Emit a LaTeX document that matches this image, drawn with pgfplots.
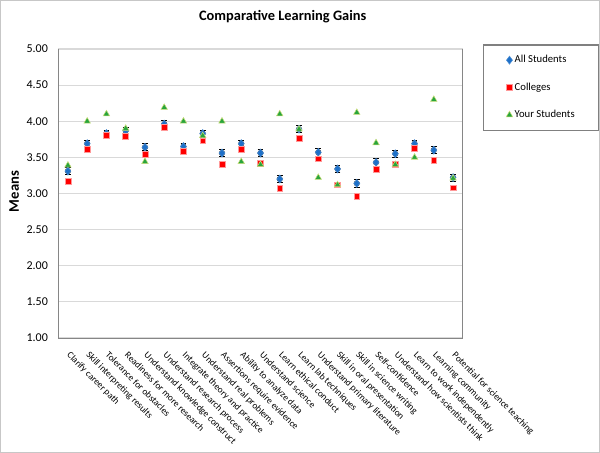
\documentclass[border=0pt]{standalone}
\usepackage{fontspec}
\setmainfont{Carlito}
\usepackage{pgfplots}
\pgfplotsset{compat=1.18}
\definecolor{gridc}{RGB}{217,217,217}
\definecolor{axc}{RGB}{134,134,134}
\definecolor{legc}{RGB}{128,128,128}
\definecolor{allc}{RGB}{30,112,200}
\definecolor{colc}{RGB}{255,0,0}
\definecolor{yourc}{RGB}{40,165,60}
\definecolor{yourb}{RGB}{200,220,120}
\begin{document}
\begin{tikzpicture}
\begin{axis}[
  name=ax,
  at={(0,0)}, anchor=south west,
  scale only axis,
  width=303.3pt, height=216.75pt,
  xmin=0.5, xmax=21.5, ymin=1, ymax=5,
  axis line style={axc},
  axis x line*=bottom, axis y line*=left,
  ytick={1,1.5,...,5},
  yticklabel style={/pgf/number format/fixed,/pgf/number format/precision=2,/pgf/number format/fixed zerofill, font=\fontsize{9}{10}\selectfont, xshift=0pt},
  /pgf/number format/assume math mode=true,
  ytick style={draw=none},
  ymajorgrids, grid style={gridc, line width=0.8pt},
  xtick={1,...,21},
  xtick style={draw=none},
  minor xtick={0.5,1.5,...,21.5},
  minor x tick style={axc},
  minor tick length=3pt,
  tick align=outside,
  xticklabels={Clarify career path, Skill interpreting results, Tolerance for obstacles, Readiness for more research, Understand knowledge construct, Understand research process, Integrate theory and practice, Understand real problems, Assertions require evidence, Ability to analyze data, Understand science, Learn ethical conduct, Learn lab techniques, Understand primary literature, Skill in oral presentation, Skill in science writing, Self-confidence, Understand how scientists think, Learn to work independently, Learning community, Potential for science teaching},
  xticklabel style={xshift=2.5pt, yshift=-4pt, rotate=-45, anchor=north west, font=\fontsize{7}{8}\selectfont, inner sep=1pt},
  ylabel={Means},
  ylabel style={at={(axis description cs:-0.109,0.507)}, anchor=center, font=\bfseries\fontsize{11}{12}\selectfont},
  title={Comparative Learning Gains},
  every axis title shift/.style={},
  title style={at={(axis description cs:0.555,1.085)}, anchor=center, font=\bfseries\fontsize{10.8}{12}\selectfont},
  legend style={at={(axis description cs:1.0495,1.0173)}, anchor=north west, draw=legc, line width=1.2pt, inner xsep=16.6pt, inner ysep=6pt, row sep=9.5pt, font=\fontsize{8}{9}\selectfont, legend cell align=left, nodes={inner xsep=1.5pt}},
  legend image code/.code={\path (0,0) (0.13cm,0); \draw[#1, line width=0.4pt] plot coordinates {(0.08cm,0cm)};},
]
\addplot[only marks, mark=none, forget plot, black, error bars/.cd, y dir=both, y explicit, error bar style={black, line width=0.5pt}, error mark options={black, rotate=90, mark size=2.2pt, line width=0.6pt}] coordinates {
(1,3.31) +- (0,0.05)
(2,3.69) +- (0,0.05)
(3,3.83) +- (0,0.05)
(4,3.87) +- (0,0.05)
(5,3.64) +- (0,0.05)
(6,3.96) +- (0,0.05)
(7,3.65) +- (0,0.05)
(8,3.83) +- (0,0.05)
(9,3.56) +- (0,0.05)
(10,3.69) +- (0,0.05)
(11,3.56) +- (0,0.05)
(12,3.20) +- (0,0.05)
(13,3.89) +- (0,0.05)
(14,3.57) +- (0,0.05)
(15,3.34) +- (0,0.05)
(16,3.14) +- (0,0.05)
(17,3.43) +- (0,0.05)
(18,3.55) +- (0,0.05)
(19,3.69) +- (0,0.05)
(20,3.60) +- (0,0.05)
(21,3.22) +- (0,0.05)
};
\addplot[only marks, mark=diamond*, mark size=3pt, mark options={fill=allc, draw=allc!80!white, line width=0.4pt}] coordinates {
(1,3.31) (2,3.69) (3,3.83) (4,3.87) (5,3.64) (6,3.96) (7,3.65) (8,3.83) (9,3.56) (10,3.69) (11,3.56)
(12,3.20) (13,3.89) (14,3.57) (15,3.34) (16,3.14) (17,3.43) (18,3.55) (19,3.69) (20,3.60) (21,3.22)
};
\addlegendentry{All Students}
\addplot[only marks, mark=square*, mark size=2.2pt, mark options={fill=colc, draw=colc!40!white, line width=0.4pt}] coordinates {
(1,3.17) (2,3.61) (3,3.81) (4,3.79) (5,3.54) (6,3.92) (7,3.58) (8,3.73) (9,3.41) (10,3.61) (11,3.42)
(12,3.07) (13,3.77) (14,3.48) (15,3.12) (16,2.96) (17,3.33) (18,3.40) (19,3.63) (20,3.46) (21,3.08)
};
\addlegendentry{Colleges}
\addplot[only marks, mark=triangle*, mark size=2.8pt, mark options={fill=yourc, draw=yourb, line width=0.4pt}] coordinates {
(1,3.39) (2,4.00) (3,4.10) (4,3.90) (5,3.44) (6,4.19) (7,4.00) (8,3.80) (9,4.00) (10,3.44) (11,3.40)
(12,4.10) (13,3.89) (14,3.22) (15,3.12) (16,4.12) (17,3.70) (18,3.40) (19,3.50) (20,4.30) (21,3.21)
};
\addlegendentry{Your Students}
\end{axis}
\draw[axc, line width=0.6pt] (ax.south east) -- (ax.north east);
\draw[gridc!80!gray, line width=0.6pt] ([shift={(-43.4pt,-85.95pt)}]ax.south west) rectangle ([shift={(405.9pt,253.2pt)}]ax.south west);
\pgfresetboundingbox
\useasboundingbox ([shift={(-43.725pt,-86.25pt)}]ax.south west) rectangle ([shift={(406.275pt,253.5pt)}]ax.south west);
\end{tikzpicture}
\end{document}
